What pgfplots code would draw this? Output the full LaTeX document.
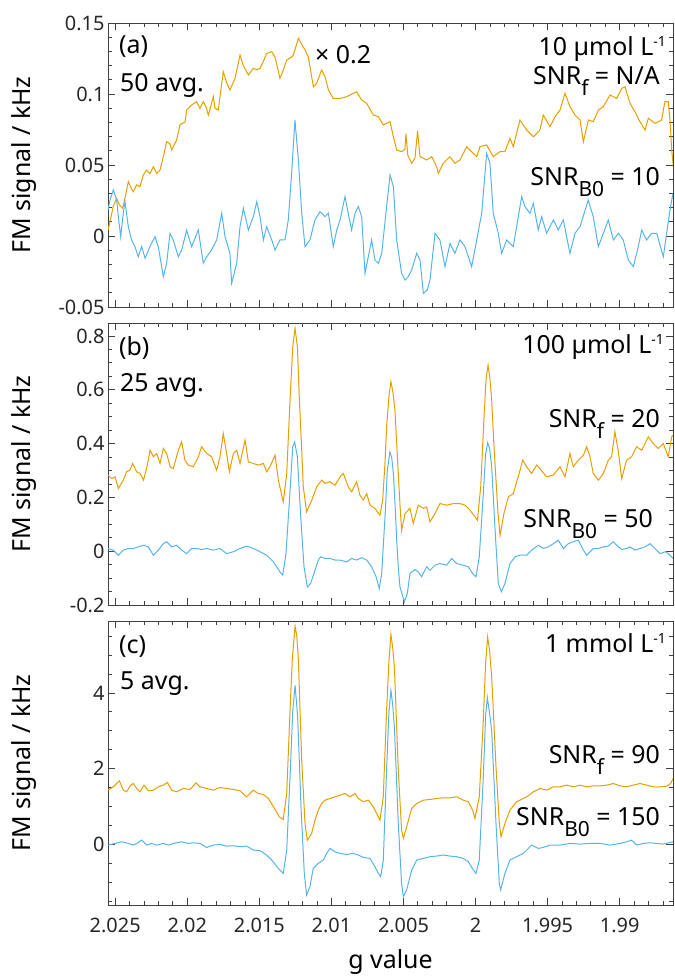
\documentclass[border=0pt]{standalone}
\usepackage{fontspec}
\setmainfont{Noto Sans}
\usepackage{pgfplots}
\pgfplotsset{compat=1.18}

\definecolor{traceF}{HTML}{E69F00}
\definecolor{traceB}{HTML}{56B4E9}
\definecolor{frame}{HTML}{404040}

\newcommand{\annfont}{\fontsize{25}{30}\selectfont}
\newcommand{\lowidx}[1]{\raisebox{-11.5bp}{\fontsize{21}{21}\selectfont #1}}
\newcommand{\highidx}[1]{\raisebox{8.5bp}{\fontsize{14}{14}\selectfont #1}}

\pgfplotsset{
  fmpanel/.style={
    scale only axis, width=565bp,
    x dir=reverse, xmin=1.9863, xmax=2.0255,
    xtick={1.99,1.995,2,2.005,2.01,2.015,2.02,2.025},
    xticklabels={1.99,1.995,2,2.005,2.01,2.015,2.02,2.025},
    minor xtick={1.987,1.988,...,2.025},
    tick align=inside,
    major tick length=7bp, minor tick length=4bp,
    axis line style={frame, line width=0.9bp},
    tick style={frame, line width=0.8bp},
    scaled ticks=false,
    tick label style={font=\fontsize{20}{24}\selectfont, text=black!85},
    ylabel={FM signal / kHz},
    ylabel style={at={(axis description cs:-0.148,0.5)}, anchor=center, font=\annfont},
  },
  trace/.style={line width=1bp, no markers},
}

\begin{document}
\begin{tikzpicture}
\useasboundingbox (0bp,0bp) rectangle (675bp,-980bp);

% ---------------- (a) 10 umol/L ----------------
\begin{axis}[fmpanel, at={(108bp,-23bp)}, anchor=north west, height=284bp,
  ymin=-0.05, ymax=0.15, ytick={-0.05,0,0.05,0.1,0.15},
  yticklabels={-0.05,0,0.05,0.1,0.15},
  minor ytick={-0.04,-0.03,...,0.15}, xticklabels={}]
\addplot[traceF, trace] coordinates {
(2.02550,0.0042) (2.02536,0.0100) (2.02513,0.0210) (2.02490,0.0265) (2.02471,0.0220)
(2.02448,0.0195) (2.02425,0.0300) (2.02409,0.0383) (2.02386,0.0330) (2.02374,0.0312)
(2.02351,0.0360) (2.02328,0.0347) (2.02305,0.0430) (2.02282,0.0465) (2.02259,0.0440)
(2.02235,0.0488) (2.02212,0.0440) (2.02189,0.0465) (2.02166,0.0560) (2.02143,0.0664)
(2.02120,0.0650) (2.02108,0.0606) (2.02074,0.0676) (2.02051,0.0780) (2.02039,0.0793)
(2.02016,0.0800) (2.02004,0.0887) (2.01970,0.0922) (2.01935,0.0946) (2.01912,0.0899)
(2.01889,0.0946) (2.01866,0.0900) (2.01854,0.0852) (2.01819,0.0981) (2.01808,0.0900)
(2.01785,0.0887) (2.01750,0.1157) (2.01727,0.1080) (2.01704,0.1028) (2.01669,0.1110)
(2.01634,0.1274) (2.01611,0.1200) (2.01576,0.1134) (2.01542,0.1181) (2.01518,0.1170)
(2.01495,0.1181) (2.01472,0.1230) (2.01449,0.1286) (2.01414,0.1298) (2.01391,0.1260)
(2.01357,0.1110) (2.01334,0.1169) (2.01310,0.1239) (2.01276,0.1260) (2.01264,0.1274)
(2.01229,0.1392) (2.01206,0.1350) (2.01183,0.1310) (2.01160,0.1260) (2.01125,0.1051)
(2.01102,0.1075) (2.01068,0.1169) (2.01044,0.1122) (2.01021,0.1030) (2.00987,0.0969)
(2.00940,0.0969) (2.00894,0.0981) (2.00825,0.1016) (2.00790,0.0958) (2.00755,0.0934)
(2.00709,0.0852) (2.00674,0.0840) (2.00640,0.0782) (2.00593,0.0805) (2.00570,0.0699)
(2.00547,0.0606) (2.00513,0.0594) (2.00490,0.0610) (2.00483,0.0720) (2.00470,0.0570)
(2.00443,0.0512) (2.00420,0.0550) (2.00402,0.0740) (2.00385,0.0560) (2.00339,0.0535)
(2.00304,0.0559) (2.00270,0.0488) (2.00258,0.0441) (2.00224,0.0512) (2.00178,0.0559)
(2.00143,0.0512) (2.00108,0.0535) (2.00062,0.0629) (2.00028,0.0594) (1.99992,0.0559)
(1.99969,0.0629) (1.99923,0.0641) (1.99877,0.0559) (1.99830,0.0594) (1.99796,0.0594)
(1.99761,0.0688) (1.99738,0.0629) (1.99692,0.0817) (1.99645,0.0746) (1.99599,0.0699)
(1.99553,0.0746) (1.99530,0.0852) (1.99483,0.0770) (1.99449,0.0840) (1.99414,0.0887)
(1.99379,0.1005) (1.99345,0.0911) (1.99310,0.0852) (1.99275,0.0817) (1.99252,0.0664)
(1.99217,0.0817) (1.99183,0.0805) (1.99148,0.0887) (1.99113,0.0911) (1.99067,0.0993)
(1.99021,0.0969) (1.98986,0.1040) (1.98963,0.1051) (1.98928,0.0934) (1.98894,0.0875)
(1.98859,0.0805) (1.98824,0.0746) (1.98801,0.0829) (1.98755,0.0793) (1.98709,0.0817)
(1.98686,0.0946) (1.98663,0.0946) (1.98651,0.0817) (1.98639,0.0606) (1.98623,0.0441)
};
\addplot[traceB, trace] coordinates {
(2.02550,0.0183) (2.02536,0.0253) (2.02513,0.0324) (2.02490,0.0253) (2.02478,0.0136)
(2.02462,-0.0005) (2.02444,0.0160) (2.02432,0.0242) (2.02409,0.0066) (2.02386,-0.0028)
(2.02363,-0.0075) (2.02340,-0.0146) (2.02316,-0.0075) (2.02293,-0.0157) (2.02259,-0.0075)
(2.02224,-0.0005) (2.02201,-0.0075) (2.02166,-0.0286) (2.02143,-0.0192) (2.02120,0.0019)
(2.02097,-0.0028) (2.02062,-0.0146) (2.02039,-0.0099) (2.02004,0.0042) (2.01970,-0.0075)
(2.01923,0.0042) (2.01889,-0.0192) (2.01865,-0.0146) (2.01831,-0.0099) (2.01796,-0.0028)
(2.01761,0.0160) (2.01738,-0.0005) (2.01704,-0.0122) (2.01692,-0.0333) (2.01657,-0.0192)
(2.01634,0.0066) (2.01611,0.0195) (2.01576,0.0042) (2.01542,0.0136) (2.01518,0.0242)
(2.01495,0.0136) (2.01472,-0.0028) (2.01449,0.0066) (2.01414,-0.0028) (2.01391,-0.0099)
(2.01357,-0.0028) (2.01322,-0.0028) (2.01299,0.0113) (2.01276,0.0441) (2.01253,0.0817)
(2.01229,0.0535) (2.01206,0.0160) (2.01183,-0.0075) (2.01149,-0.0028) (2.01114,0.0113)
(2.01079,0.0171) (2.01044,0.0136) (2.01021,0.0160) (2.00987,-0.0075) (2.00963,0.0042)
(2.00940,0.0113) (2.00906,0.0277) (2.00883,0.0160) (2.00860,0.0042) (2.00836,0.0160)
(2.00813,0.0207) (2.00790,0.0136) (2.00767,-0.0263) (2.00744,-0.0146) (2.00721,-0.0028)
(2.00698,-0.0169) (2.00674,-0.0192) (2.00651,-0.0122) (2.00617,0.0207) (2.00593,0.0430)
(2.00570,0.0347) (2.00547,-0.0028) (2.00513,-0.0263) (2.00489,-0.0310) (2.00466,-0.0286)
(2.00443,-0.0239) (2.00408,-0.0122) (2.00385,-0.0169) (2.00362,-0.0404) (2.00335,-0.0380)
(2.00316,-0.0310) (2.00281,0.0019) (2.00247,-0.0028) (2.00212,-0.0216) (2.00177,-0.0052)
(2.00143,-0.0122) (2.00108,-0.0028) (2.00073,-0.0075) (2.00027,-0.0216) (1.99992,-0.0028)
(1.99957,0.0160) (1.99923,0.0582) (1.99900,0.0512) (1.99877,0.0160) (1.99842,0.0019)
(1.99819,-0.0122) (1.99784,-0.0028) (1.99738,-0.0075) (1.99715,0.0066) (1.99680,0.0277)
(1.99657,0.0207) (1.99622,0.0160) (1.99599,0.0230) (1.99565,0.0042) (1.99541,0.0136)
(1.99507,0.0019) (1.99460,0.0113) (1.99426,0.0042) (1.99391,0.0113) (1.99345,-0.0122)
(1.99310,0.0019) (1.99275,0.0066) (1.99218,0.0253) (1.99183,0.0136) (1.99148,-0.0075)
(1.99113,0.0019) (1.99079,0.0113) (1.99044,-0.0028) (1.99009,0.0019) (1.98975,-0.0028)
(1.98940,-0.0169) (1.98905,-0.0216) (1.98871,-0.0075) (1.98847,0.0042) (1.98813,-0.0028)
(1.98778,0.0019) (1.98743,0.0019) (1.98697,-0.0146) (1.98674,0.0019) (1.98651,0.0183)
(1.98630,0.0300)
};
\end{axis}

% ---------------- (b) 100 umol/L ----------------
\begin{axis}[fmpanel, at={(108bp,-323bp)}, anchor=north west, height=282bp,
  ymin=-0.2, ymax=0.848, ytick={-0.2,0,0.2,0.4,0.6,0.8},
  yticklabels={-0.2,0,0.2,0.4,0.6,0.8},
  minor ytick={-0.15,-0.1,...,0.85}, xticklabels={}]
\addplot[traceF, trace] coordinates {
(2.02550,0.283) (2.02525,0.270) (2.02501,0.276) (2.02478,0.233) (2.02444,0.264)
(2.02421,0.295) (2.02398,0.301) (2.02379,0.326) (2.02351,0.295) (2.02328,0.289)
(2.02304,0.264) (2.02282,0.307) (2.02258,0.375) (2.02235,0.351) (2.02212,0.363)
(2.02189,0.326) (2.02166,0.382) (2.02143,0.363) (2.02119,0.314) (2.02097,0.307)
(2.02062,0.375) (2.02039,0.406) (2.02016,0.338) (2.01993,0.320) (2.01958,0.314)
(2.01923,0.351) (2.01900,0.388) (2.01865,0.363) (2.01831,0.351) (2.01796,0.301)
(2.01773,0.351) (2.01750,0.437) (2.01727,0.363) (2.01708,0.295) (2.01680,0.363)
(2.01657,0.375) (2.01634,0.326) (2.01599,0.413) (2.01576,0.332) (2.01542,0.326)
(2.01507,0.320) (2.01472,0.326) (2.01449,0.295) (2.01426,0.314) (2.01391,0.357)
(2.01368,0.264) (2.01334,0.183) (2.01310,0.289) (2.01287,0.561) (2.01268,0.760)
(2.01252,0.828) (2.01236,0.760) (2.01222,0.561) (2.01206,0.375) (2.01195,0.239)
(2.01172,0.146) (2.01136,0.190) (2.01102,0.239) (2.01067,0.264) (2.01044,0.252)
(2.01010,0.258) (2.00975,0.245) (2.00940,0.276) (2.00917,0.289) (2.00883,0.239)
(2.00860,0.221) (2.00825,0.258) (2.00802,0.208) (2.00779,0.190) (2.00755,0.214)
(2.00732,0.171) (2.00698,0.159) (2.00663,0.134) (2.00644,0.190) (2.00628,0.330)
(2.00617,0.462) (2.00600,0.580) (2.00587,0.630) (2.00573,0.590) (2.00559,0.524)
(2.00547,0.400) (2.00536,0.289) (2.00524,0.170) (2.00513,0.078) (2.00489,0.140)
(2.00455,0.159) (2.00432,0.103) (2.00397,0.171) (2.00362,0.159) (2.00339,0.164)
(2.00316,0.109) (2.00281,0.140) (2.00247,0.177) (2.00200,0.171) (2.00154,0.177)
(2.00108,0.177) (2.00073,0.171) (2.00038,0.152) (2.00004,0.128) (1.99987,0.115)
(1.99964,0.239) (1.99941,0.499) (1.99927,0.640) (1.99913,0.691) (1.99900,0.640)
(1.99888,0.561) (1.99873,0.400) (1.99858,0.264) (1.99844,0.140) (1.99830,0.059)
(1.99803,0.140) (1.99772,0.202) (1.99738,0.214) (1.99691,0.301) (1.99673,0.338)
(1.99645,0.314) (1.99611,0.289) (1.99576,0.320) (1.99553,0.307) (1.99507,0.276)
(1.99460,0.283) (1.99414,0.314) (1.99379,0.276) (1.99345,0.363) (1.99322,0.314)
(1.99287,0.338) (1.99252,0.357) (1.99229,0.388) (1.99206,0.351) (1.99183,0.289)
(1.99148,0.264) (1.99113,0.289) (1.99079,0.338) (1.99056,0.351) (1.99033,0.444)
(1.99009,0.369) (1.98986,0.270) (1.98952,0.338) (1.98917,0.351) (1.98882,0.388)
(1.98847,0.375) (1.98801,0.425) (1.98767,0.400) (1.98732,0.382) (1.98697,0.400)
(1.98663,0.351) (1.98639,0.425) (1.98630,0.431)
};
\addplot[traceB, trace] coordinates {
(2.02550,0.010) (2.02513,0.004) (2.02478,-0.015) (2.02444,0.004) (2.02409,0.010)
(2.02374,0.010) (2.02340,0.016) (2.02304,0.022) (2.02270,0.016) (2.02235,-0.015)
(2.02201,0.004) (2.02166,0.028) (2.02143,0.035) (2.02108,0.016) (2.02074,0.022)
(2.02039,0.004) (2.02004,-0.009) (2.01970,0.010) (2.01935,0.010) (2.01900,0.006)
(2.01865,0.010) (2.01819,0.004) (2.01773,0.010) (2.01727,-0.009) (2.01680,-0.002)
(2.01634,0.010) (2.01588,0.019) (2.01542,0.010) (2.01495,-0.002) (2.01449,-0.015)
(2.01402,-0.040) (2.01357,-0.077) (2.01338,-0.089) (2.01315,-0.009) (2.01291,0.190)
(2.01268,0.388) (2.01255,0.406) (2.01236,0.351) (2.01213,0.128) (2.01190,-0.058)
(2.01167,-0.133) (2.01144,-0.120) (2.01114,-0.071) (2.01091,-0.033) (2.01075,-0.021)
(2.01044,-0.027) (2.01010,-0.027) (2.00975,-0.033) (2.00940,-0.033) (2.00894,-0.040)
(2.00860,-0.027) (2.00825,-0.033) (2.00790,-0.024) (2.00755,-0.033) (2.00721,-0.058)
(2.00690,-0.095) (2.00668,-0.139) (2.00651,-0.083) (2.00640,0.020) (2.00628,0.128)
(2.00612,0.300) (2.00594,0.369) (2.00582,0.350) (2.00570,0.289) (2.00559,0.180)
(2.00547,0.041) (2.00536,-0.060) (2.00524,-0.133) (2.00494,-0.188) (2.00473,-0.157)
(2.00455,-0.083) (2.00420,-0.068) (2.00397,-0.077) (2.00374,-0.095) (2.00339,-0.058)
(2.00316,-0.071) (2.00281,-0.052) (2.00247,-0.046) (2.00200,-0.052) (2.00166,-0.027)
(2.00131,-0.046) (2.00085,-0.052) (2.00050,-0.058) (2.00020,-0.083) (1.99997,-0.095)
(1.99974,-0.021) (1.99946,0.214) (1.99930,0.360) (1.99916,0.403) (1.99902,0.380)
(1.99888,0.314) (1.99863,0.066) (1.99842,-0.120) (1.99821,-0.151) (1.99796,-0.120)
(1.99761,-0.046) (1.99726,-0.021) (1.99692,-0.015) (1.99645,-0.015) (1.99611,0.004)
(1.99564,0.022) (1.99530,0.010) (1.99495,0.016) (1.99460,0.028) (1.99426,0.041)
(1.99391,0.010) (1.99356,0.028) (1.99322,0.035) (1.99287,0.041) (1.99252,0.004)
(1.99229,-0.015) (1.99183,0.010) (1.99148,0.010) (1.99113,0.016) (1.99079,0.019)
(1.99044,0.035) (1.99021,0.022) (1.98986,0.006) (1.98952,0.010) (1.98928,0.016)
(1.98894,0.004) (1.98859,0.010) (1.98824,0.016) (1.98789,0.028) (1.98755,0.010)
(1.98720,-0.009) (1.98685,-0.002) (1.98663,-0.009) (1.98630,-0.027)
};
\end{axis}

% ---------------- (c) 1 mmol/L ----------------
\begin{axis}[fmpanel, at={(108bp,-621bp)}, anchor=north west, height=284bp,
  ymin=-1.6, ymax=5.9, ytick={0,2,4}, yticklabels={0,2,4},
  minor ytick={-1.5,-1,...,5.5},
  xlabel={g value},
  xlabel style={at={(axis description cs:0.5,0)}, anchor=base, yshift=-63bp, font=\annfont},
  xticklabel style={yshift=-10bp}]
\addplot[traceF, trace] coordinates {
(2.02550,1.433) (2.02513,1.521) (2.02471,1.679) (2.02444,1.433) (2.02421,1.389)
(2.02393,1.565) (2.02374,1.609) (2.02351,1.477) (2.02328,1.389) (2.02300,1.565)
(2.02270,1.415) (2.02235,1.433) (2.02201,1.521) (2.02166,1.565) (2.02138,1.635)
(2.02108,1.433) (2.02074,1.389) (2.02027,1.477) (2.01981,1.451) (2.01939,1.626)
(2.01912,1.521) (2.01865,1.477) (2.01819,1.433) (2.01773,1.503) (2.01727,1.477)
(2.01680,1.451) (2.01634,1.415) (2.01588,1.257) (2.01542,1.433) (2.01507,1.345)
(2.01472,1.319) (2.01437,1.213) (2.01402,0.993) (2.01361,0.730) (2.01334,0.659)
(2.01310,1.345) (2.01287,3.543) (2.01271,4.900) (2.01252,5.767) (2.01240,5.500)
(2.01229,4.862) (2.01206,2.224) (2.01183,0.554) (2.01167,0.114) (2.01137,0.290)
(2.01114,0.642) (2.01091,0.905) (2.01068,1.081) (2.01044,1.169) (2.01010,1.213)
(2.00975,1.257) (2.00940,1.301) (2.00906,1.345) (2.00871,1.257) (2.00836,1.345)
(2.00813,1.213) (2.00778,1.125) (2.00744,1.169) (2.00709,0.993) (2.00681,0.774)
(2.00663,0.642) (2.00640,1.257) (2.00617,3.543) (2.00600,4.900) (2.00587,5.547)
(2.00575,5.200) (2.00563,4.686) (2.00536,1.960) (2.00513,0.378) (2.00501,0.158)
(2.00478,0.466) (2.00443,0.949) (2.00408,1.081) (2.00362,1.169) (2.00316,1.187)
(2.00270,1.213) (2.00224,1.231) (2.00177,1.231) (2.00131,1.257) (2.00085,1.169)
(2.00050,1.125) (2.00020,0.905) (2.00004,0.686) (1.99974,1.257) (1.99946,3.279)
(1.99930,4.800) (1.99916,5.477) (1.99902,5.100) (1.99888,4.422) (1.99858,2.048)
(1.99835,0.554) (1.99823,0.202) (1.99796,0.554) (1.99761,0.905) (1.99715,1.125)
(1.99645,1.257) (1.99599,1.389) (1.99553,1.477) (1.99507,1.433) (1.99460,1.521)
(1.99414,1.521) (1.99368,1.565) (1.99322,1.521) (1.99275,1.565) (1.99229,1.521)
(1.99183,1.547) (1.99137,1.547) (1.99090,1.565) (1.99044,1.609) (1.98998,1.547)
(1.98952,1.521) (1.98905,1.565) (1.98859,1.609) (1.98813,1.565) (1.98766,1.521)
(1.98720,1.521) (1.98674,1.538) (1.98646,1.609) (1.98630,1.741)
};
\addplot[traceB, trace] coordinates {
(2.02550,-0.018) (2.02501,0.026) (2.02455,0.070) (2.02409,0.026) (2.02374,-0.018)
(2.02351,0.026) (2.02316,0.114) (2.02282,-0.018) (2.02247,0.026) (2.02212,-0.018)
(2.02166,0.026) (2.02131,-0.018) (2.02097,0.026) (2.02039,0.070) (2.01993,0.026)
(2.01958,0.044) (2.01912,0.026) (2.01865,-0.079) (2.01819,-0.018) (2.01773,0.000)
(2.01727,-0.044) (2.01680,-0.035) (2.01634,-0.062) (2.01588,-0.044) (2.01542,-0.149)
(2.01495,-0.167) (2.01449,-0.281) (2.01414,-0.413) (2.01368,-0.633) (2.01334,-0.765)
(2.01310,-0.149) (2.01287,1.785) (2.01268,3.543) (2.01252,4.202) (2.01234,3.367)
(2.01210,0.905) (2.01188,-0.765) (2.01172,-1.336) (2.01149,-1.116) (2.01126,-0.633)
(2.01091,-0.501) (2.01056,-0.413) (2.01033,-0.237) (2.01010,-0.105) (2.00975,-0.193)
(2.00940,-0.237) (2.00894,-0.264) (2.00848,-0.237) (2.00813,-0.281) (2.00778,-0.343)
(2.00732,-0.369) (2.00698,-0.589) (2.00674,-0.765) (2.00658,-0.853) (2.00640,-0.413)
(2.00617,1.960) (2.00601,3.500) (2.00587,4.070) (2.00575,3.700) (2.00563,3.103)
(2.00547,1.600) (2.00536,0.554) (2.00513,-1.029) (2.00501,-1.380) (2.00478,-1.204)
(2.00443,-0.677) (2.00408,-0.413) (2.00362,-0.369) (2.00316,-0.325) (2.00270,-0.308)
(2.00224,-0.281) (2.00177,-0.308) (2.00131,-0.325) (2.00085,-0.369) (2.00050,-0.457)
(2.00015,-0.677) (1.99997,-0.765) (1.99974,-0.413) (1.99946,1.785) (1.99930,3.400)
(1.99918,3.877) (1.99904,3.500) (1.99888,3.015) (1.99858,0.554) (1.99835,-1.029)
(1.99826,-1.204) (1.99796,-0.765) (1.99761,-0.413) (1.99715,-0.325) (1.99668,-0.237)
(1.99611,-0.018) (1.99564,-0.105) (1.99530,-0.079) (1.99483,-0.018) (1.99414,-0.018)
(1.99345,0.026) (1.99275,0.009) (1.99206,0.026) (1.99137,0.026) (1.99067,-0.018)
(1.98998,0.026) (1.98952,0.070) (1.98917,0.114) (1.98882,-0.018) (1.98836,0.026)
(1.98789,0.044) (1.98743,0.026) (1.98697,0.009) (1.98630,0.070)
};
\end{axis}

% ---------------- panel annotations ----------------
\begin{scope}[every node/.style={inner sep=0pt, font=\annfont}]
\node[anchor=base west] at (119bp,-53bp) {(a)};
\node[anchor=base west] at (120bp,-91bp) {50 avg.};
\node[anchor=base west] at (315bp,-63bp) {× 0.2};
\node[anchor=base east] at (666bp,-55bp) {10 µmol L\highidx{-1}};
\node[anchor=base east] at (660bp,-84bp) {SNR\lowidx{f} = N/A};
\node[anchor=base east] at (660bp,-185bp) {SNR\lowidx{B0} = 10};

\node[anchor=base west] at (119bp,-355bp) {(b)};
\node[anchor=base west] at (120bp,-391bp) {25 avg.};
\node[anchor=base east] at (664bp,-353bp) {100 µmol L\highidx{-1}};
\node[anchor=base east] at (660bp,-427bp) {SNR\lowidx{f} = 20};
\node[anchor=base east] at (653bp,-527bp) {SNR\lowidx{B0} = 50};

\node[anchor=base west] at (119bp,-653bp) {(c)};
\node[anchor=base west] at (120bp,-689bp) {5 avg.};
\node[anchor=base east] at (666bp,-652bp) {1 mmol L\highidx{-1}};
\node[anchor=base east] at (660bp,-763bp) {SNR\lowidx{f} = 90};
\node[anchor=base east] at (660bp,-825bp) {SNR\lowidx{B0} = 150};
\end{scope}
\end{tikzpicture}
\end{document}
